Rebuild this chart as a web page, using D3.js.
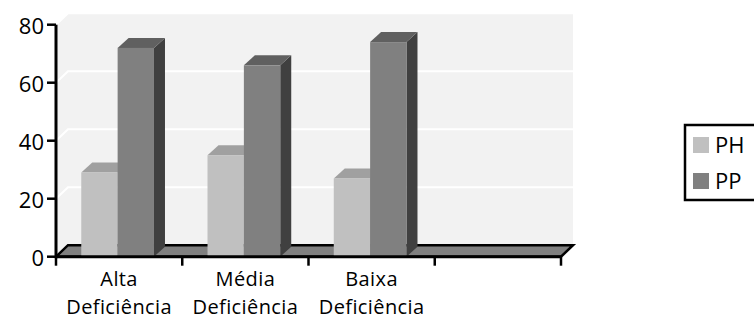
<!DOCTYPE html>
<html>
<head>
<meta charset="utf-8">
<script src="https://cdn.jsdelivr.net/npm/d3@7/dist/d3.min.js"></script>
<style>
  html, body { margin: 0; padding: 0; background: #ffffff; }
  svg { display: block; font-family: "Open Sans", "Noto Sans", sans-serif; }
</style>
</head>
<body>
<svg id="chart" width="754" height="322"></svg>
<script>
// Categories (the last slot is left empty on purpose)
const categories = ["Alta Deficiência", "Média Deficiência", "Baixa Deficiência", ""];
const categoryLines = [["Alta", "Deficiência"], ["Média", "Deficiência"], ["Baixa", "Deficiência"], []];
const seriesNames = ["PH", "PP"];
const phValues = [29, 35, 27];
const ppValues = [72, 66, 74];
const yTicks = [0, 20, 40, 60, 80];

const svg = d3.select("#chart");

// Front plane of the 3D plot box
const x = d3.scaleBand().domain(categories).range([56, 561]);
const y = d3.scaleLinear().domain([0, 80]).range([256.7, 24.7]);

// Depth offsets (walls / bars)
const WDX = 12, WDY = -11.5;
const BDX = 11, BDY = -10;

const colors = {
  PH: { front: "#c0c0c0", top: "#a0a0a0", side: "#909090" },
  PP: { front: "#808080", top: "#606060", side: "#404040" }
};

const x0 = x.range()[0], x1 = x.range()[1];
const yTop = y(80), yBase = y(0);
const poly = pts => pts.map(p => p.join(",")).join(" ");

// Side wall
svg.append("polygon")
  .attr("points", poly([[x0, yTop], [x0 + WDX, yTop + WDY], [x0 + WDX, yBase + WDY], [x0, yBase]]))
  .attr("fill", "#f2f2f2");
// Back wall
svg.append("rect")
  .attr("x", x0 + WDX).attr("y", yTop + WDY)
  .attr("width", x1 - x0).attr("height", yBase - yTop)
  .attr("fill", "#f2f2f2");

// Gridlines on side and back walls
const grid = svg.append("g");
yTicks.filter(t => t > 0).forEach(t => {
  const yy = y(t);
  grid.append("polyline")
    .attr("points", poly([[x0, yy], [x0 + WDX, yy + WDY], [x1 + WDX, yy + WDY]]))
    .attr("fill", "none").attr("stroke", "#ffffff").attr("stroke-width", 2);
});

// Floor
svg.append("polygon")
  .attr("points", poly([[x0, yBase], [x1, yBase], [x1 + WDX, yBase + WDY], [x0 + WDX, yBase + WDY]]))
  .attr("fill", "#808080").attr("stroke", "#000000").attr("stroke-width", 2.5)
  .attr("stroke-linejoin", "miter");

// Bars
const barW = x.bandwidth() * 0.288;
const inner = d3.scaleBand().domain(seriesNames).range([0, barW * 2]);
const seriesValues = { PH: phValues, PP: ppValues };

const bars = svg.append("g");
categories.slice(0, 3).forEach((cat, i) => {
  const groupLeft = x(cat) + x.bandwidth() / 2 - 1.5 - barW;
  seriesNames.forEach(s => {
    const v = seriesValues[s][i];
    const bx = groupLeft + inner(s);
    const w = inner.bandwidth();
    const yt = y(v);
    const c = colors[s];
    const g = bars.append("g");
    g.append("polygon")
      .attr("points", poly([[bx + w, yt], [bx + w + BDX, yt + BDY], [bx + w + BDX, yBase + BDY], [bx + w, yBase]]))
      .attr("fill", c.side);
    g.append("polygon")
      .attr("points", poly([[bx, yt], [bx + w, yt], [bx + w + BDX, yt + BDY], [bx + BDX, yt + BDY]]))
      .attr("fill", c.top);
    g.append("rect")
      .attr("x", bx).attr("y", yt).attr("width", w).attr("height", yBase - yt)
      .attr("fill", c.front);
  });
});

// Axes
const axes = svg.append("g").attr("stroke", "#000000");
axes.append("line")
  .attr("x1", x0).attr("x2", x1).attr("y1", yBase).attr("y2", yBase)
  .attr("stroke-width", 3);
axes.append("line")
  .attr("x1", x0).attr("x2", x0).attr("y1", yTop).attr("y2", yBase + 1.5)
  .attr("stroke-width", 3);
yTicks.forEach(t => {
  axes.append("line")
    .attr("x1", x0 - 9).attr("x2", x0).attr("y1", y(t)).attr("y2", y(t))
    .attr("stroke-width", 2.5);
});
const xTickPos = categories.map(c => x(c)).concat([x1]);
xTickPos.forEach(px => {
  axes.append("line")
    .attr("x1", px).attr("x2", px).attr("y1", yBase).attr("y2", yBase + 9)
    .attr("stroke-width", 2.5);
});

// Y tick labels
svg.append("g").selectAll("text").data(yTicks).join("text")
  .attr("x", x0 - 12).attr("y", d => y(d))
  .attr("text-anchor", "end").attr("dominant-baseline", "central")
  .attr("font-size", 22).attr("fill", "#000000")
  .text(d => d);

// Category labels (two lines each)
categories.forEach((cat, i) => {
  const cx = x(cat) + x.bandwidth() / 2;
  categoryLines[i].forEach((line, j) => {
    svg.append("text")
      .attr("x", cx).attr("y", 286 + j * 28)
      .attr("text-anchor", "middle")
      .attr("font-size", 20).attr("letter-spacing", 0.4).attr("fill", "#000000")
      .text(line);
  });
});

// Legend
const legend = svg.append("g");
legend.append("rect")
  .attr("x", 685).attr("y", 125).attr("width", 80).attr("height", 75)
  .attr("fill", "#ffffff").attr("stroke", "#000000").attr("stroke-width", 2.5);
seriesNames.forEach((s, i) => {
  const base = 153 + i * 36;
  legend.append("rect")
    .attr("x", 693).attr("y", base - 16).attr("width", 16).attr("height", 16)
    .attr("fill", colors[s].front);
  legend.append("text")
    .attr("x", 715).attr("y", base)
    .attr("font-size", 22).attr("fill", "#000000")
    .text(s);
});
</script>
</body>
</html>
